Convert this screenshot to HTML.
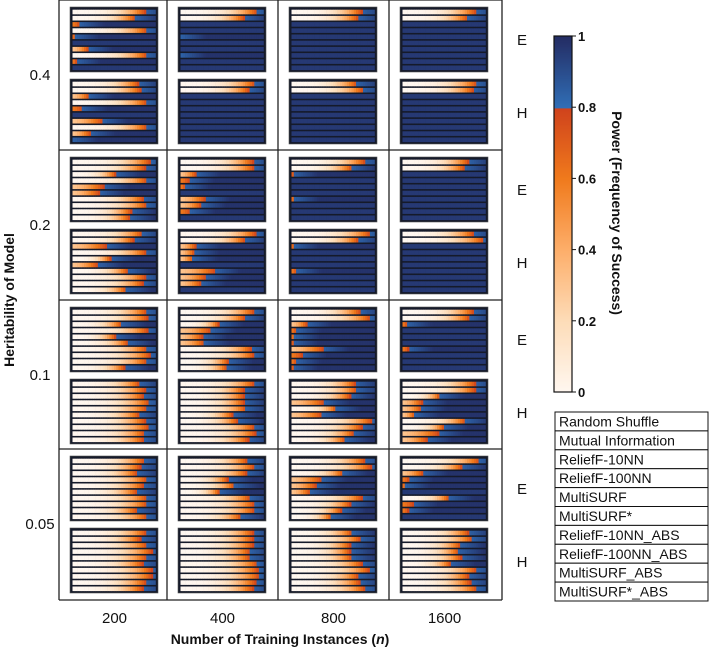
<!DOCTYPE html>
<html><head><meta charset="utf-8"><style>
body{margin:0;background:#fff;}
svg{display:block;font-family:"Liberation Sans",Arial,sans-serif;}
</style></head><body>
<svg id="chart" width="709" height="649" viewBox="0 0 709 649"></svg>
<script>
const sampleSizes = ["200","400","800","1600"];
const heritabilities = ["0.4","0.2","0.1","0.05"];
const modelTypes = ["E","H"];
const algorithms = ["Random Shuffle","Mutual Information","ReliefF-10NN","ReliefF-100NN","MultiSURF","MultiSURF*","ReliefF-10NN_ABS","ReliefF-100NN_ABS","MultiSURF_ABS","MultiSURF*_ABS"];
const colorTicks = [0,0.2,0.4,0.6,0.8,1];
// fraction of each bar's width at which power reaches 0.8 (blue starts); [heritability][n][E/H]
const blueStart_h04 = [
 [[0.88,0.76,0.09,0.9,0.03,0,0.19,0.9,0.05,0],[0.8,0.83,0.2,0.9,0.12,0,0.37,0.9,0.22,0.01]],
 [[0.93,0.77,0,0,0.01,0,0,0.01,0,0],[0.9,0.83,0,0,0,0,0,0,0,0]],
 [[0.85,0.81,0,0,0,0,0,0,0,0],[0.79,0.87,0,0,0,0,0,0,0,0]],
 [[0.89,0.79,0,0,0,0,0,0,0,0],[0.9,0.86,0,0,0,0,0,0,0,0]]];
const blueStart_h02 = [
 [[0.94,0.88,0.52,0.9,0.38,0.33,0.86,0.9,0.71,0.69],[0.84,0.74,0.41,0.89,0.46,0.31,0.67,0.88,0.85,0.65]],
 [[0.88,0.89,0.19,0.11,0.06,0,0.3,0.25,0.12,0],[0.91,0.78,0.19,0.17,0.15,0,0.42,0.31,0.25,0]],
 [[0.89,0.73,0.02,0,0,0,0.03,0,0,0],[0.95,0.81,0.03,0,0,0,0.06,0,0,0]],
 [[0.8,0.75,0,0,0,0,0,0,0,0],[0.86,0.98,0,0,0,0,0,0,0,0]]];
const blueStart_h01 = [
 [[0.9,0.91,0.59,0.91,0.52,0.67,0.9,0.94,0.9,0.63],[0.81,0.88,0.86,0.93,0.9,0.81,0.88,0.92,0.87,0.86]],
 [[0.89,0.78,0.46,0.37,0.27,0.29,0.86,0.89,0.58,0.56],[0.89,0.77,0.77,0.77,0.79,0.63,0.69,0.89,0.91,0.82]],
 [[0.83,0.95,0.19,0.06,0.04,0.02,0.39,0.13,0.06,0.02],[0.77,0.79,0.71,0.4,0.54,0.37,0.97,0.85,0.75,0.65]],
 [[0.86,0.81,0.06,0,0,0,0.07,0,0,0],[0.88,0.88,0.45,0.24,0.23,0.15,0.76,0.5,0.44,0.3]]];
const blueStart_h005 = [
 [[0.87,0.82,0.78,0.9,0.86,0.78,0.9,0.9,0.78,0.9],[0.89,0.82,0.9,0.96,0.9,0.85,0.96,0.96,0.89,0.85]],
 [[0.81,0.89,0.8,0.57,0.65,0.47,0.84,0.89,0.89,0.73],[0.88,0.88,0.88,0.84,0.84,0.93,0.94,0.95,0.91,0.88]],
 [[0.89,0.96,0.62,0.37,0.3,0.23,0.85,0.71,0.6,0.48],[0.73,0.83,0.71,0.71,0.73,0.85,0.94,0.81,0.83,0.89]],
 [[0.93,0.72,0.25,0.08,0.04,0,0.56,0.13,0.07,0],[0.8,0.84,0.7,0.68,0.71,0.58,0.89,0.8,0.82,0.9]]];
const blueStartAll = [blueStart_h04, blueStart_h02, blueStart_h01, blueStart_h005];

const NS="http://www.w3.org/2000/svg";
const svg=document.getElementById('chart');
function mk(tag,attrs,parent){const e=document.createElementNS(NS,tag);for(const k in attrs)e.setAttribute(k,attrs[k]);(parent||svg).appendChild(e);return e;}
const stops=[[0,[255,247,240]],[0.2,[253,220,184]],[0.4,[253,174,106]],[0.6,[240,122,28]],[0.7999,[207,66,28]],[0.8,[48,110,182]],[1,[36,44,99]]];
function cmap(p){p=Math.max(0,Math.min(1,p));for(let i=1;i<stops.length;i++){if(p<=stops[i][0]){const a=stops[i-1],b=stops[i];const t=(p-a[0])/(b[0]-a[0]||1);const c=a[1].map((v,j)=>Math.round(v+(b[1][j]-v)*t));return `rgb(${c})`;}}return 'rgb(36,44,99)';}
function powerAt(f,a){
  if(a<=0) return 0.96;
  if(f>=a) return 0.84+0.14*Math.min(1,(f-a)/0.3);
  const p0 = a<0.15?0.6:(a<0.45?0.3:0);
  return p0+(0.79-p0)*Math.pow(f/a,a<0.45?1.5:3);
}
const colX=[59,167,278,389], colW=111, rowY=[0,150,300,449], rowH=150;
const xScale = (i)=>colX[i];
const yScale = (i)=>rowY[i];
const frame=mk('g',{});


for(let i=0;i<=4;i++){const x=i<4?colX[i]:502;mk('line',{x1:x,y1:0,x2:x,y2:600,stroke:'#222','stroke-width':1.3},frame);}
[0,150,300,449,600].forEach(y=>mk('line',{x1:59,y1:y,x2:502,y2:y,stroke:'#222','stroke-width':1.3},frame));
const N=36;
for(let r=0;r<4;r++)for(let c=0;c<4;c++)for(let m=0;m<2;m++){
  const px=xScale(c)+11, py=yScale(r)+(m?79:7), pw=88, ph=65;
  const g=mk('g',{});
  
  
  mk('rect',{x:px,y:py,width:pw,height:ph,fill:'#151a2a',stroke:'#555','stroke-width':0.6},g);
  const vals=blueStartAll[r][c][m];
  const bh=(ph-3)/vals.length;
  vals.forEach((a,k)=>{
    const by=py+2+k*bh, bx=px+2.5, bw=pw-5;
    const bar=mk('g',{},g);
    
    
    for(let s=0;s<N;s++){const f=(s+0.5)/N;mk('rect',{x:bx+s*bw/N,y:by+0.7,width:bw/N+0.3,height:bh-1.6,fill:cmap(powerAt(f,a))},bar);}
  });
}
heritabilities.forEach((h,i)=>{const t=mk('text',{x:40,y:yScale(i)+80,'font-size':15,'text-anchor':'middle',fill:'#111'});t.textContent=h;


 modelTypes.forEach((mt,m)=>{const e=mk('text',{x:522,y:yScale(i)+(m?118:45),'font-size':15,'text-anchor':'middle',fill:'#111'});e.textContent=mt;
 
 });
});
sampleSizes.forEach((s,i)=>{const t=mk('text',{x:xScale(i)+colW/2,y:623,'font-size':15,'text-anchor':'middle',fill:'#111'});t.textContent=s;

});
const xt=mk('text',{x:280,y:644,'font-size':14,'font-weight':'bold','text-anchor':'middle',fill:'#111'});
xt.innerHTML='Number of Training Instances (<tspan font-style="italic">n</tspan>)';


const yt=mk('text',{x:0,y:0,'font-size':14,'font-weight':'bold','text-anchor':'middle',fill:'#111',transform:'translate(14,300) rotate(-90)'});
yt.textContent='Heritability of Model';


const cb=mk('g',{});


const cTop=36,cBot=392,cX=554,cW=18;
const cY=v=>cBot-(cBot-cTop)*v;
for(let i=0;i<178;i++){const v=(i+0.5)/178;mk('rect',{x:cX,y:cY((i+1)/178),width:cW,height:(cBot-cTop)/178+0.4,fill:cmap(v)},cb);}
mk('rect',{x:cX,y:cTop,width:cW,height:cBot-cTop,fill:'none',stroke:'#111','stroke-width':1.2},cb);
colorTicks.forEach(v=>{mk('line',{x1:cX+cW,x2:cX+cW+4,y1:cY(v),y2:cY(v),stroke:'#111'},cb);const t=mk('text',{x:cX+cW+6,y:cY(v)+5,'font-size':13,'font-weight':'bold',fill:'#111'},cb);t.textContent=String(v);

});
const ct=mk('text',{x:0,y:0,'font-size':14,'font-weight':'bold','text-anchor':'middle',fill:'#111',transform:'translate(612,213) rotate(90)'});
ct.textContent='Power (Frequency of Success)';


const lg=mk('g',{});


const lx=555,ly=412,lw=153,lh=18.9;
algorithms.forEach((a,k)=>{mk('rect',{x:lx,y:ly+k*lh,width:lw,height:lh,fill:'#fff',stroke:'#111','stroke-width':1},lg);
const t=mk('text',{x:lx+4,y:ly+k*lh+14.5,'font-size':14,fill:'#111'},lg);t.textContent=a;

});
</script>
</body></html>
